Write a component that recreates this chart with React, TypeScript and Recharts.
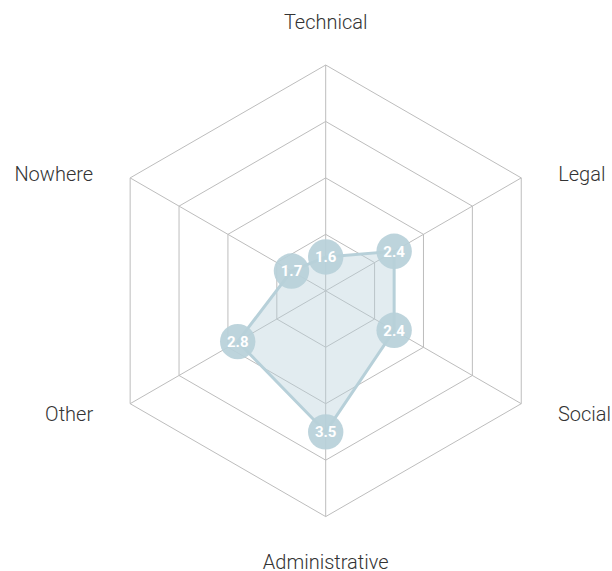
import React from 'react';
import { RadarChart, Radar, PolarGrid, PolarAngleAxis, PolarRadiusAxis } from 'recharts';

const categories = ['Technical', 'Legal', 'Social', 'Administrative', 'Other', 'Nowhere'];
const scores = [1.6, 2.4, 2.4, 3.5, 2.8, 1.7];
const radiusDomain: [number, number] = [1, 5];

const data = categories.map((name, i) => ({ name, score: scores[i] }));

// the chart fills the whole window, so drop the default body margin
if (typeof document !== 'undefined') document.body.style.margin = '0';

const W = 612;
const H = 571;
const CX = 325.7;
const CY = 290.8;
const R = 225.8;
const COLOR = '#b7d0d9';
const LABEL_FONT = '300 20px Roboto';

let ctx: CanvasRenderingContext2D | null = null;
const textWidth = (s: string) => {
  if (!ctx) ctx = document.createElement('canvas').getContext('2d');
  if (!ctx) return s.length * 10;
  ctx.font = LABEL_FONT;
  return ctx.measureText(s).width;
};

const AngleTick = (props: any) => {
  const { x, y, payload } = props;
  const dx = x - CX;
  const dy = y - CY;
  const label = payload.value;
  const style = { fontFamily: 'Roboto', fontWeight: 300, fontSize: 20, fill: '#333' };
  if (Math.abs(dx) < 1) {
    const ty = dy < 0 ? CY - R - 36.5 : CY + R + 52.4;
    return <text x={CX} y={ty} textAnchor="middle" style={style}>{label}</text>;
  }
  const vx = R * Math.cos(Math.PI / 6);
  const vy = R * Math.sin(Math.PI / 6);
  const ty = dy < 0 ? CY - vy + 2.6 : CY + vy + 16.8;
  if (dx < 0) {
    return <text x={CX - vx - 37} y={ty} textAnchor="end" style={style}>{label}</text>;
  }
  const tx = Math.min(CX + vx + 37, W - 1 - textWidth(label));
  return <text x={tx} y={ty} textAnchor="start" style={style}>{label}</text>;
};

const ScoreDot = (props: any) => {
  const { cx, cy, value, payload } = props;
  const v = value ?? payload?.value ?? payload?.score;
  return (
    <g>
      <circle cx={cx} cy={cy} r={17.7} fill={COLOR} fillOpacity={0.92} />
      <text
        x={cx}
        y={cy}
        dy={5.3}
        textAnchor="middle"
        style={{ fontFamily: 'Roboto', fontWeight: 700, fontSize: 15, fill: '#fff' }}
      >
        {v}
      </text>
    </g>
  );
};

export default function App() {
  return (
    <RadarChart width={W} height={H} cx={CX} cy={CY} outerRadius={R} data={data}>
      <PolarGrid gridType="polygon" stroke="#bdbdbd" strokeWidth={1} />
      <PolarAngleAxis dataKey="name" tick={<AngleTick />} tickLine={false} axisLine={false} />
      <PolarRadiusAxis domain={radiusDomain} tickCount={5} tick={false} axisLine={false} />
      <Radar
        dataKey="score"
        stroke={COLOR}
        strokeWidth={3}
        fill={COLOR}
        fillOpacity={0.4}
        dot={<ScoreDot />}
        isAnimationActive={false}
      />
    </RadarChart>
  );
}
